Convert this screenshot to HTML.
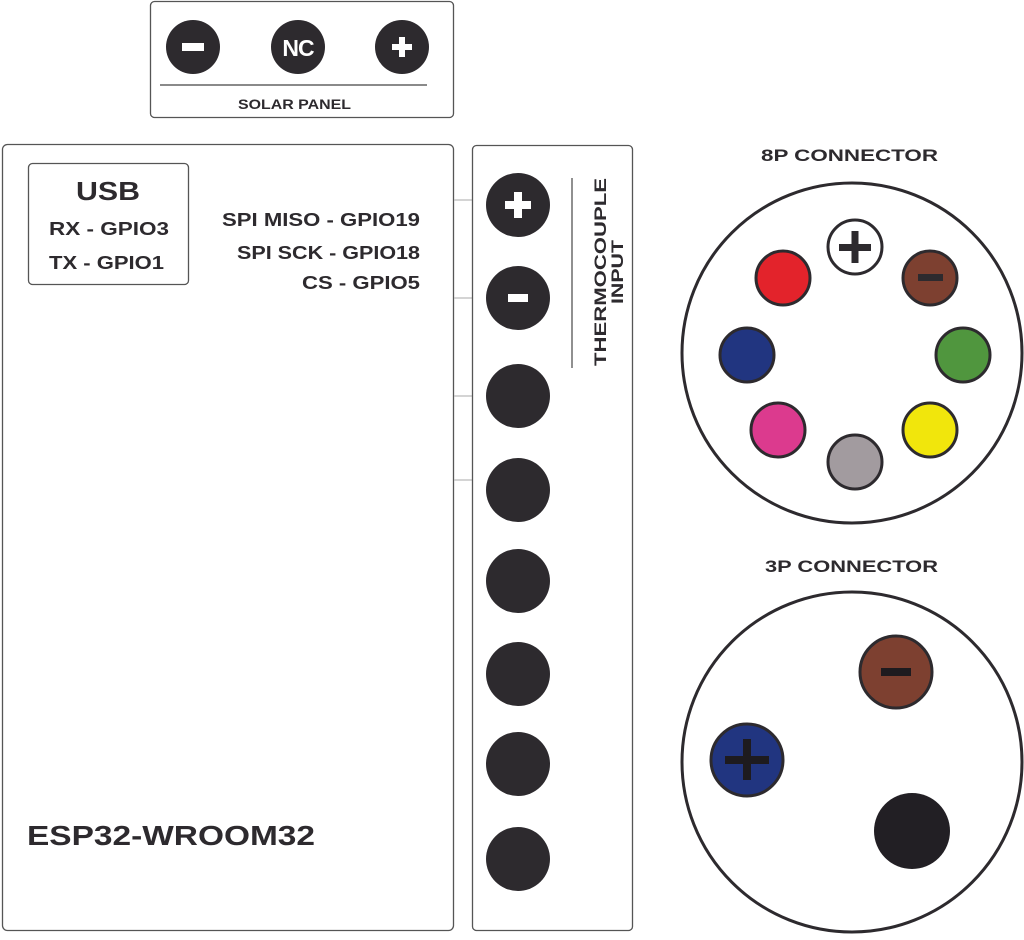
<!DOCTYPE html>
<html><head><meta charset="utf-8"><style>
html,body{margin:0;padding:0;background:#fff;}
svg{display:block;font-family:"Liberation Sans",sans-serif;font-weight:bold;}
</style></head><body>
<svg width="1024" height="940" viewBox="0 0 1024 940" xmlns="http://www.w3.org/2000/svg">
<rect width="1024" height="940" fill="#fff"/>
<!-- Solar panel -->
<rect x="150.5" y="1.5" width="303" height="116" rx="4" fill="none" stroke="#555" stroke-width="1.3"/>
<circle cx="193" cy="47" r="27" fill="#2d2a2e"/>
<rect x="182" y="43" width="22" height="8" fill="#fff"/>
<circle cx="298" cy="47" r="27" fill="#2d2a2e"/>
<text x="298" y="56" font-size="23" fill="#fff" text-anchor="middle" letter-spacing="-1">NC</text>
<circle cx="402" cy="47" r="27" fill="#2d2a2e"/>
<rect x="392" y="44" width="20" height="6" fill="#fff"/><rect x="399" y="37" width="6" height="20" fill="#fff"/>
<line x1="160" y1="85" x2="427" y2="85" stroke="#444" stroke-width="1.3"/>
<text x="238" y="109" font-size="13.5" fill="#2d2a2e" textLength="113" lengthAdjust="spacingAndGlyphs">SOLAR PANEL</text>
<!-- ESP box -->
<rect x="2.5" y="144.5" width="451" height="786" rx="5" fill="none" stroke="#555" stroke-width="1.3"/>
<rect x="28.5" y="163.5" width="160" height="121" rx="4" fill="none" stroke="#555" stroke-width="1.3"/>
<text x="76" y="200" font-size="26" fill="#2d2a2e" textLength="64" lengthAdjust="spacingAndGlyphs">USB</text>
<text x="49" y="235" font-size="18" fill="#2d2a2e" textLength="120" lengthAdjust="spacingAndGlyphs">RX - GPIO3</text>
<text x="49" y="269" font-size="18" fill="#2d2a2e" textLength="115" lengthAdjust="spacingAndGlyphs">TX - GPIO1</text>
<g font-size="18" fill="#2d2a2e">
<text x="222" y="226" textLength="198" lengthAdjust="spacingAndGlyphs">SPI MISO - GPIO19</text>
<text x="237" y="259" textLength="183" lengthAdjust="spacingAndGlyphs">SPI SCK - GPIO18</text>
<text x="302" y="289" textLength="118" lengthAdjust="spacingAndGlyphs">CS - GPIO5</text>
</g>
<text x="27" y="845" font-size="28" fill="#2d2a2e" textLength="288" lengthAdjust="spacingAndGlyphs">ESP32-WROOM32</text>
<!-- connectors lines -->
<g stroke="#bbb" stroke-width="1.3">
<line x1="454" y1="200" x2="472" y2="200"/><line x1="454" y1="298" x2="472" y2="298"/>
<line x1="454" y1="396" x2="472" y2="396"/><line x1="454" y1="480" x2="472" y2="480"/>
</g>
<!-- pin strip -->
<rect x="472.5" y="145.5" width="160" height="785" rx="4" fill="none" stroke="#555" stroke-width="1.3"/>
<g fill="#2d2a2e">
<circle cx="518" cy="205" r="32"/><circle cx="518" cy="298" r="32"/>
<circle cx="518" cy="396" r="32"/><circle cx="518" cy="490" r="32"/>
<circle cx="518" cy="581" r="32"/><circle cx="518" cy="674" r="32"/>
<circle cx="518" cy="764" r="32"/><circle cx="518" cy="859" r="32"/>
</g>
<rect x="505" y="201" width="26" height="8" fill="#fff"/><rect x="514" y="192" width="8" height="26" fill="#fff"/>
<rect x="508" y="294" width="20" height="8" fill="#fff"/>
<line x1="572" y1="178" x2="572" y2="368" stroke="#555" stroke-width="1.3"/>
<g transform="translate(606,272) rotate(-90)" font-size="17" fill="#2d2a2e">
<text x="-94" y="0" textLength="188" lengthAdjust="spacingAndGlyphs">THERMOCOUPLE</text>
<text x="-32" y="17" textLength="64" lengthAdjust="spacingAndGlyphs">INPUT</text>
</g>
<!-- 8P -->
<text x="761" y="161" font-size="17" fill="#2d2a2e" textLength="177" lengthAdjust="spacingAndGlyphs">8P CONNECTOR</text>
<circle cx="852" cy="353" r="170" fill="none" stroke="#2d2a2e" stroke-width="3"/>
<g stroke="#2d2a2e" stroke-width="3">
<circle cx="855" cy="247" r="27" fill="#fff"/>
<circle cx="783" cy="278" r="27" fill="#e3232b"/>
<circle cx="930" cy="278" r="27" fill="#7d4030"/>
<circle cx="747" cy="355" r="27" fill="#213580"/>
<circle cx="963" cy="355" r="27" fill="#50963e"/>
<circle cx="778" cy="430" r="27" fill="#dc3a8e"/>
<circle cx="855" cy="462" r="27" fill="#a29b9f"/>
<circle cx="930" cy="430" r="27" fill="#f1e60c"/>
</g>
<rect x="839" y="244" width="32" height="7" fill="#2d2a2e"/><rect x="851.5" y="231" width="7" height="32" fill="#2d2a2e"/>
<rect x="918" y="274" width="25" height="7" fill="#2d2a2e"/>
<!-- 3P -->
<text x="765" y="572" font-size="17" fill="#2d2a2e" textLength="173" lengthAdjust="spacingAndGlyphs">3P CONNECTOR</text>
<circle cx="852" cy="762" r="170" fill="none" stroke="#2d2a2e" stroke-width="3"/>
<circle cx="896" cy="672" r="36" fill="#7d4030" stroke="#2d2a2e" stroke-width="3"/>
<rect x="881" y="668" width="30" height="8" fill="#1e1b1f"/>
<circle cx="747" cy="760" r="36" fill="#213580" stroke="#2d2a2e" stroke-width="3"/>
<rect x="725" y="756" width="44" height="8" fill="#1e1b1f"/><rect x="743" y="739" width="8" height="41" fill="#1e1b1f"/>
<circle cx="912" cy="831" r="38" fill="#221f24"/>
</svg>
</body></html>
